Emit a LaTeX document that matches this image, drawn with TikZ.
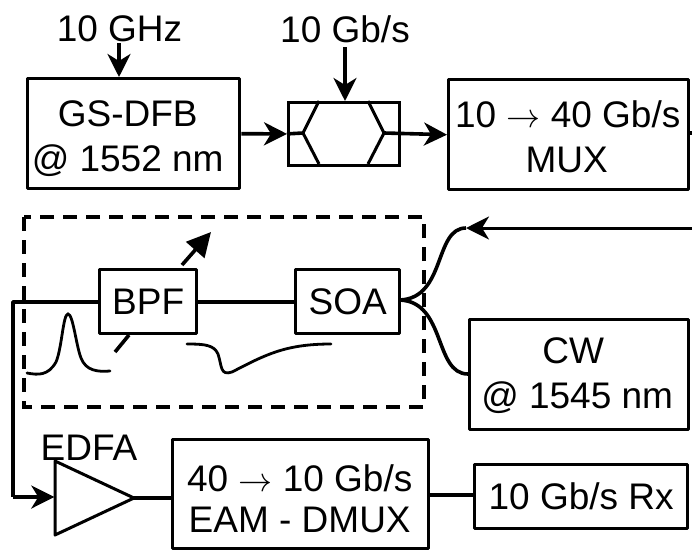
\documentclass[tikz,border=0pt]{standalone}
\usepackage{fontspec}
\usepackage{graphicx}
\setmainfont{Liberation Sans}
\usetikzlibrary{arrows.meta}
\newcommand{\rarr}{\resizebox{34pt}{!}{$\rightarrow$}}
\newcommand{\pad}[1]{\rule{0pt}{#1pt}}
\tikzset{
 x=1pt,y=-1pt,
 wire/.style={line width=3.6pt,line join=round},
 thin wire/.style={line width=3pt,line join=round},
 tip/.style={-{Stealth[length=23pt,width=23pt,inset=7pt]}},
 blockbox/.style={draw,line width=3.4pt,rectangle,align=center,inner sep=0pt,line join=round,font=\fontsize{37}{45}\selectfont},
 lab/.style={font=\fontsize{37}{44}\selectfont,inner sep=0pt},
}
\begin{document}
\begin{tikzpicture}
\useasboundingbox (0,0) rectangle (692,549);
\node[blockbox,minimum width=212pt,minimum height=110pt,anchor=north west] (dfb) at (26,77) {\pad{35}GS-DFB\hspace*{12pt}\\@ 1552 nm\hspace*{12pt}};
\node[draw,line width=2.8pt,minimum width=111pt,minimum height=63pt,anchor=north west,inner sep=0pt] (mod) at (287,101) {};
\node[blockbox,minimum width=240pt,minimum height=110pt,anchor=north west] (mux) at (447,78) {\pad{31}10 \rarr{} 40 Gb/s\hspace*{2pt}\\MUX\hspace*{4pt}};
\node[blockbox,minimum width=97pt,minimum height=64pt,anchor=north west] (bpf) at (98,268) {BPF};
\node[blockbox,minimum width=104pt,minimum height=64pt,anchor=north west] (soa) at (294,268) {SOA};
\node[blockbox,minimum width=219pt,minimum height=110pt,anchor=north west] (cw) at (468,318) {\pad{28}CW\hspace*{12pt}\\@ 1545 nm\hspace*{4pt}};
\node[blockbox,minimum width=256pt,minimum height=109pt,anchor=north west] (eam) at (171,438) {\pad{35}40 \rarr{} 10 Gb/s\hspace*{2pt}\\[-4pt]EAM - DMUX\hspace*{2pt}};
\node[blockbox,minimum width=213pt,minimum height=64pt,anchor=north west] (rx) at (473,463) {10 Gb/s Rx};
\node[lab] (ghz) at (119.5,29) {10 GHz};
\node[lab] (gbs) at (345,29) {10 Gb/s};
\node[lab] (edfaL) at (89,448) {EDFA};
\coordinate (tl) at (55,461); \coordinate (bl) at (55,535); \coordinate (ap) at (134,498);
\draw[thin wire] (tl) -- (ap) -- (bl) -- cycle;
\node[inner sep=0pt] (edfa) at (55,497) {};
\draw[dash pattern=on 14pt off 9pt,line width=3.6pt] (24,217) rectangle (424,407);
% modulator arms
\coordinate (ml) at (303,133); \coordinate (mr) at (384,133);
\draw[thin wire] (319,101) -- (ml) -- (319,164);
\draw[thin wire] (368,101) -- (mr) -- (368,164);
% connectors
\coordinate (a1) at (119,43); \coordinate (a2) at (345,47);
\draw[wire,tip] (a1) -- (dfb.north -| a1);
\draw[wire,tip] (a2) -- (mod.north -| a2);
\draw[wire,tip] (dfb.east) -- (mod.west);
\draw[wire] (mod.west) -- (ml);
\draw[wire,tip] (mr) -- (mux.west);
\coordinate (stub) at (692,133);
\draw[wire] (689,133) -- (stub);
\coordinate (rin) at (692,228);
\coordinate (cj) at (400,300);
\draw[thin wire,tip] (rin) -- (466,228);
\draw[wire] (466,228) .. controls (434,228) and (446,298) .. (cj);
\draw[wire] (cj) .. controls (446,302) and (434,374) .. (cw.west |- 0,374);
\draw[wire] (bpf.east) -- (soa.west);
\coordinate (loop) at (13,302);
\coordinate (lp2) at (13,497);
\draw[wire] (bpf.west |- 0,302) -- (loop) -- (lp2);
\draw[wire,tip] (lp2) -- (edfa);
\draw[wire] (ap) -- (171,498);
\draw[wire] (427,495) -- (473,495);
% tunable arrow
\draw[wire] (115,352) -- (129,335);
\draw[wire,-{Stealth[length=24pt,width=24pt,inset=0pt]}] (182,265) -- (211,232);
% spectra
\draw[line width=2.8pt,line cap=round] (27,373) .. controls (38,375) and (48,376) .. (56,362) .. controls (62,348) and (63,314) .. (68,314) .. controls (73,314) and (76,345) .. (81,358) .. controls (86,371) and (98,372) .. (110,371);
\draw[line width=2.8pt,line cap=round] (187,344) .. controls (205,344) and (214,345) .. (218,354) .. controls (222,366) and (220,376) .. (232,372) .. controls (265,355) and (285,344) .. (331,344);
\end{tikzpicture}
\end{document}
